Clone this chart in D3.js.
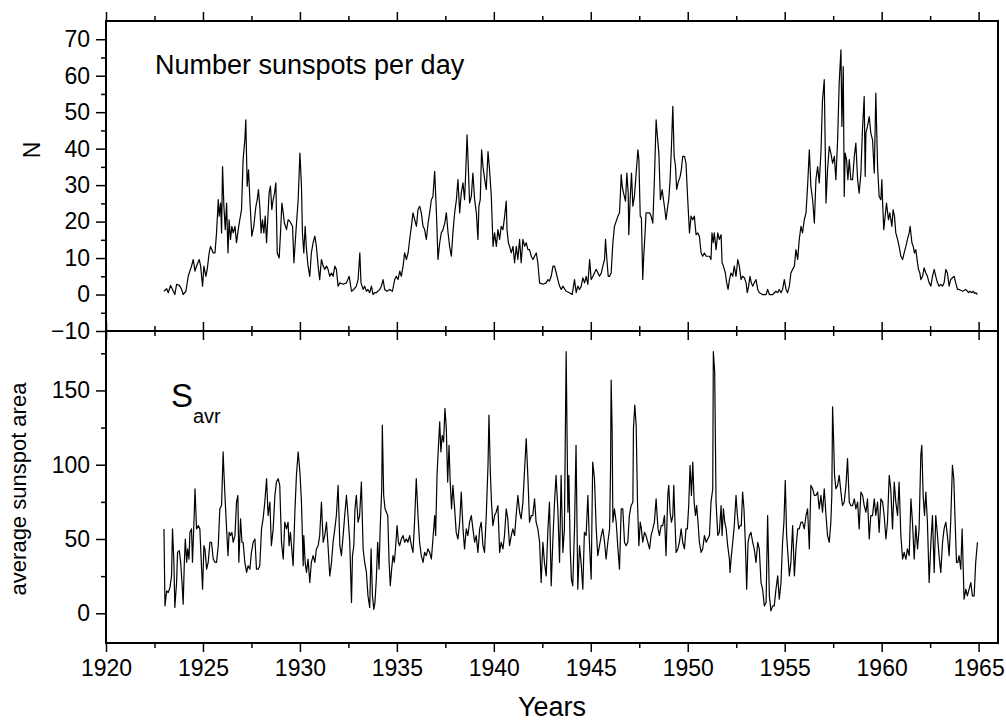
<!DOCTYPE html>
<html>
<head>
<meta charset="utf-8">
<script src="https://cdnjs.cloudflare.com/ajax/libs/d3/7.8.5/d3.min.js"></script>
<style>
  body { margin: 0; background: #fff; }
  svg text { font-family: "Liberation Sans", Arial, sans-serif; fill: #000; }
  .tick text { font-size: 23px; }
</style>
</head>
<body>
<div id="chart"></div>
<script>
// monthly readings [year, value]
var sunspotsPerDay = [
  [1922.99,0.9],[1923.13,1.6],[1923.21,0.5],[1923.33,2.5],[1923.43,1.4],[1923.55,0.0],[1923.64,2.8],[1923.78,2.5],[1923.90,1.4],[1923.98,0.0],
  [1924.12,0.9],[1924.24,5.0],[1924.41,7.8],[1924.50,9.6],[1924.59,6.4],[1924.67,7.8],[1924.81,9.6],[1924.88,7.8],[1924.98,2.3],[1925.05,7.8],
  [1925.15,5.0],[1925.22,6.9],[1925.32,11.4],[1925.39,13.2],[1925.53,11.4],[1925.62,11.4],[1925.70,16.9],[1925.79,26.0],[1925.84,21.5],[1925.91,25.1],
  [1925.96,16.9],[1926.01,35.1],[1926.08,24.2],[1926.15,17.8],[1926.22,25.1],[1926.29,11.4],[1926.35,20.5],[1926.42,15.1],[1926.49,18.7],[1926.56,16.9],
  [1926.65,18.7],[1926.73,14.2],[1926.82,17.8],[1926.90,20.5],[1926.99,23.3],[1927.07,37.0],[1927.16,42.4],[1927.21,47.9],[1927.28,29.7],[1927.35,34.2],
  [1927.42,26.0],[1927.52,16.0],[1927.62,18.7],[1927.73,24.2],[1927.80,26.0],[1927.86,28.8],[1927.93,24.2],[1928.00,16.9],[1928.07,20.5],[1928.14,16.9],
  [1928.21,21.5],[1928.28,14.2],[1928.36,22.4],[1928.41,27.8],[1928.48,29.7],[1928.55,23.3],[1928.62,26.0],[1928.69,27.8],[1928.76,30.6],[1928.83,11.4],
  [1928.93,10.0],[1929.00,16.9],[1929.07,25.1],[1929.14,22.4],[1929.20,19.6],[1929.31,17.8],[1929.39,20.5],[1929.48,20.1],[1929.62,18.7],[1929.69,8.7],
  [1929.79,16.9],[1929.91,26.0],[1930.00,38.8],[1930.08,29.7],[1930.13,16.9],[1930.20,11.4],[1930.27,18.7],[1930.34,12.3],[1930.42,7.8],[1930.51,5.0],
  [1930.59,11.4],[1930.68,14.2],[1930.77,16.0],[1930.85,13.2],[1930.94,7.8],[1931.02,4.1],[1931.11,9.6],[1931.20,7.8],[1931.28,6.9],[1931.37,7.8],
  [1931.45,6.9],[1931.54,5.0],[1931.63,5.9],[1931.71,5.0],[1931.80,7.8],[1931.88,6.9],[1931.97,2.3],[1932.06,3.2],[1932.23,2.8],[1932.40,3.2],
  [1932.54,5.0],[1932.66,0.9],[1932.78,1.4],[1932.91,2.3],[1933.00,4.1],[1933.09,11.4],[1933.15,3.2],[1933.26,1.4],[1933.34,2.3],[1933.43,0.9],
  [1933.51,1.4],[1933.60,0.5],[1933.69,2.3],[1933.77,0.0],[1933.86,0.5],[1933.94,0.5],[1934.12,1.4],[1934.20,2.3],[1934.29,4.1],[1934.37,1.4],
  [1934.49,0.9],[1934.63,1.4],[1934.77,0.9],[1934.89,4.1],[1934.97,5.0],[1935.06,4.1],[1935.15,6.4],[1935.23,5.0],[1935.32,7.8],[1935.40,11.4],
  [1935.49,9.6],[1935.58,11.4],[1935.66,15.1],[1935.75,18.7],[1935.83,22.4],[1935.92,20.5],[1936.01,18.7],[1936.09,23.3],[1936.18,24.2],[1936.26,22.4],
  [1936.35,18.7],[1936.43,17.8],[1936.52,15.1],[1936.61,19.6],[1936.69,22.4],[1936.78,26.0],[1936.86,26.9],[1936.95,33.8],[1937.04,22.4],[1937.12,9.6],
  [1937.21,14.2],[1937.29,16.9],[1937.38,17.8],[1937.47,19.6],[1937.55,22.4],[1937.64,16.9],[1937.72,13.2],[1937.81,10.5],[1937.89,16.9],[1937.98,22.4],
  [1938.07,26.0],[1938.15,31.5],[1938.24,22.4],[1938.32,27.8],[1938.41,30.6],[1938.49,26.0],[1938.55,33.3],[1938.62,43.8],[1938.67,37.0],[1938.75,25.1],
  [1938.84,26.9],[1938.92,33.3],[1939.01,26.0],[1939.10,22.4],[1939.18,15.1],[1939.23,24.2],[1939.30,26.0],[1939.37,39.7],[1939.44,35.1],[1939.53,31.5],
  [1939.61,28.8],[1939.70,39.2],[1939.78,34.2],[1939.87,26.9],[1939.96,13.2],[1940.04,16.9],[1940.13,13.2],[1940.21,17.8],[1940.30,15.1],[1940.38,18.7],
  [1940.47,17.8],[1940.56,21.5],[1940.64,25.6],[1940.68,17.8],[1940.75,14.2],[1940.81,13.2],[1940.90,11.4],[1940.99,13.2],[1941.07,8.7],[1941.16,13.2],
  [1941.24,9.6],[1941.33,15.1],[1941.41,8.7],[1941.50,15.1],[1941.59,13.2],[1941.67,14.2],[1941.76,12.3],[1941.84,12.3],[1941.93,10.5],[1942.02,9.6],
  [1942.10,10.5],[1942.19,11.4],[1942.27,8.7],[1942.36,3.2],[1942.53,2.8],[1942.70,3.2],[1942.79,4.1],[1942.87,3.7],[1942.96,5.0],[1943.05,7.8],
  [1943.13,7.8],[1943.22,5.9],[1943.30,4.1],[1943.39,2.3],[1943.48,1.4],[1943.56,2.3],[1943.73,0.9],[1943.90,0.5],[1944.04,0.0],[1944.11,2.3],
  [1944.16,4.1],[1944.25,0.5],[1944.33,2.3],[1944.42,1.4],[1944.51,2.3],[1944.59,4.6],[1944.68,3.2],[1944.76,5.0],[1944.85,2.8],[1944.94,9.6],
  [1945.02,4.1],[1945.11,5.0],[1945.28,6.9],[1945.45,5.0],[1945.54,5.9],[1945.62,7.8],[1945.71,9.6],[1945.76,15.1],[1945.83,9.6],[1945.90,5.0],
  [1945.97,5.0],[1946.05,5.9],[1946.14,14.2],[1946.22,18.7],[1946.31,20.1],[1946.40,21.5],[1946.48,22.4],[1946.53,27.8],[1946.57,32.9],[1946.62,29.7],
  [1946.69,27.8],[1946.79,25.6],[1946.86,33.3],[1946.93,27.8],[1946.96,16.4],[1947.03,26.0],[1947.10,33.3],[1947.17,24.2],[1947.25,26.9],[1947.34,33.3],
  [1947.43,39.7],[1947.48,37.0],[1947.55,21.5],[1947.61,21.0],[1947.68,4.1],[1947.73,10.5],[1947.80,16.9],[1947.85,22.4],[1948.03,22.4],[1948.11,21.5],
  [1948.20,19.6],[1948.28,31.5],[1948.37,47.9],[1948.42,44.3],[1948.51,38.8],[1948.59,26.0],[1948.68,28.8],[1948.75,26.0],[1948.82,23.3],[1948.88,20.5],
  [1948.97,24.2],[1949.02,26.0],[1949.09,31.5],[1949.16,40.6],[1949.23,51.6],[1949.30,37.9],[1949.37,35.1],[1949.43,28.8],[1949.50,30.6],[1949.61,32.4],
  [1949.67,34.2],[1949.74,37.9],[1949.83,37.9],[1949.91,36.0],[1950.00,26.0],[1950.09,16.9],[1950.17,21.5],[1950.26,20.5],[1950.34,21.5],[1950.43,16.4],
  [1950.52,16.9],[1950.60,16.0],[1950.69,11.4],[1950.77,10.5],[1950.86,11.4],[1950.95,10.5],[1951.12,10.5],[1951.20,9.6],[1951.25,16.9],[1951.32,14.2],
  [1951.37,16.9],[1951.46,12.3],[1951.55,16.9],[1951.63,15.1],[1951.72,16.4],[1951.77,8.7],[1951.84,7.8],[1951.94,5.9],[1952.01,3.2],[1952.08,1.4],
  [1952.15,4.1],[1952.23,5.9],[1952.32,5.0],[1952.40,7.8],[1952.49,5.0],[1952.58,9.6],[1952.66,7.8],[1952.75,4.1],[1952.83,5.0],[1952.92,4.6],
  [1953.01,3.2],[1953.07,0.5],[1953.14,2.3],[1953.21,5.0],[1953.28,3.2],[1953.35,2.3],[1953.43,3.2],[1953.52,4.1],[1953.61,1.4],[1953.69,0.5],
  [1953.86,0.0],[1954.04,0.0],[1954.12,1.4],[1954.21,0.0],[1954.38,0.0],[1954.55,0.9],[1954.64,0.5],[1954.72,1.4],[1954.81,0.5],[1954.89,1.4],
  [1954.98,4.1],[1955.07,1.4],[1955.15,0.5],[1955.24,2.3],[1955.32,5.9],[1955.41,6.9],[1955.50,7.8],[1955.58,12.3],[1955.67,9.6],[1955.75,15.1],
  [1955.84,18.7],[1955.92,16.9],[1956.01,20.5],[1956.10,22.4],[1956.18,29.7],[1956.27,39.7],[1956.35,29.7],[1956.44,26.0],[1956.53,19.6],[1956.61,31.5],
  [1956.70,35.1],[1956.78,30.6],[1956.87,38.8],[1956.95,53.4],[1957.04,58.9],[1957.13,25.1],[1957.21,34.2],[1957.30,40.6],[1957.38,38.8],[1957.47,36.0],
  [1957.56,37.9],[1957.64,31.5],[1957.73,42.4],[1957.81,58.0],[1957.90,67.1],[1957.95,46.1],[1958.02,62.5],[1958.07,26.9],[1958.12,38.8],[1958.19,37.0],
  [1958.26,31.5],[1958.33,37.0],[1958.41,31.5],[1958.50,31.5],[1958.59,37.9],[1958.67,41.5],[1958.76,31.5],[1958.84,27.8],[1958.93,33.3],[1959.01,45.2],
  [1959.10,54.3],[1959.15,32.4],[1959.19,44.3],[1959.27,46.1],[1959.36,48.8],[1959.44,44.3],[1959.53,42.4],[1959.62,33.3],[1959.70,55.2],[1959.79,35.1],
  [1959.87,26.9],[1959.96,26.0],[1960.01,31.5],[1960.05,25.1],[1960.11,17.8],[1960.18,21.5],[1960.25,25.1],[1960.35,20.5],[1960.42,22.4],[1960.53,18.7],
  [1960.59,23.3],[1960.66,21.5],[1960.73,16.9],[1960.82,15.1],[1960.90,13.2],[1960.99,10.5],[1961.08,9.6],[1961.16,11.4],[1961.25,13.2],[1961.33,15.1],
  [1961.42,16.9],[1961.47,18.7],[1961.56,14.2],[1961.63,13.2],[1961.69,11.4],[1961.76,12.3],[1961.85,8.7],[1961.90,6.9],[1961.97,5.9],[1962.02,4.1],
  [1962.11,5.0],[1962.19,7.3],[1962.28,5.9],[1962.36,5.0],[1962.45,3.2],[1962.54,2.3],[1962.62,5.0],[1962.71,6.9],[1962.79,5.0],[1962.88,3.2],
  [1962.96,2.3],[1963.05,2.8],[1963.14,2.3],[1963.22,3.2],[1963.31,6.9],[1963.39,5.9],[1963.48,2.3],[1963.56,4.1],[1963.65,4.6],[1963.74,5.0],
  [1963.82,3.2],[1963.91,1.4],[1963.99,1.4],[1964.17,0.9],[1964.34,1.4],[1964.48,0.5],[1964.55,0.9],[1964.65,0.5],[1964.72,0.9],[1964.79,0.3],
  [1964.85,0.5],[1964.94,0.0]
];

var averageArea = [
  [1922.99,56.8],[1923.04,5.0],[1923.13,15.1],[1923.21,14.0],[1923.30,17.4],[1923.38,25.2],[1923.43,56.8],[1923.50,34.3],[1923.55,3.9],[1923.64,20.7],
  [1923.69,41.0],[1923.78,42.1],[1923.85,34.3],[1923.92,20.7],[1923.98,6.1],[1924.04,34.3],[1924.09,50.0],[1924.16,34.3],[1924.21,43.3],[1924.28,36.5],
  [1924.33,54.5],[1924.41,56.8],[1924.46,34.3],[1924.53,59.0],[1924.59,83.8],[1924.67,56.8],[1924.76,59.0],[1924.84,56.8],[1924.93,29.7],[1924.98,16.2],
  [1925.05,45.5],[1925.10,43.3],[1925.19,29.7],[1925.27,34.3],[1925.36,47.8],[1925.44,47.8],[1925.53,36.5],[1925.62,34.3],[1925.70,34.3],[1925.79,45.5],
  [1925.87,70.3],[1925.96,72.5],[1926.04,108.6],[1926.08,95.1],[1926.15,74.8],[1926.22,56.8],[1926.29,38.8],[1926.35,54.5],[1926.42,52.3],[1926.49,54.5],
  [1926.56,47.8],[1926.65,52.3],[1926.73,74.8],[1926.80,79.3],[1926.85,34.3],[1926.94,63.5],[1927.01,47.8],[1927.07,47.8],[1927.16,34.3],[1927.25,27.5],
  [1927.33,32.0],[1927.42,29.7],[1927.50,41.0],[1927.59,47.8],[1927.68,50.0],[1927.76,29.7],[1927.85,29.7],[1927.93,32.0],[1928.02,56.8],[1928.10,63.5],
  [1928.19,74.8],[1928.28,90.6],[1928.36,65.8],[1928.45,74.8],[1928.53,45.5],[1928.62,56.8],[1928.71,79.3],[1928.79,88.3],[1928.88,90.6],[1928.96,86.1],
  [1929.05,47.8],[1929.14,36.5],[1929.22,61.3],[1929.31,56.8],[1929.39,61.3],[1929.44,45.5],[1929.51,54.5],[1929.58,43.3],[1929.65,32.0],[1929.74,68.0],
  [1929.82,92.8],[1929.91,108.6],[1930.00,95.1],[1930.08,74.8],[1930.17,32.0],[1930.20,52.3],[1930.27,34.3],[1930.34,27.5],[1930.42,36.5],[1930.51,20.7],
  [1930.59,34.3],[1930.68,38.8],[1930.77,34.3],[1930.85,43.3],[1930.94,45.5],[1931.02,52.3],[1931.11,74.8],[1931.20,47.8],[1931.28,52.3],[1931.37,61.3],
  [1931.45,45.5],[1931.54,25.2],[1931.63,34.3],[1931.71,47.8],[1931.80,56.8],[1931.88,65.8],[1931.97,86.1],[1932.06,45.5],[1932.14,38.8],[1932.23,52.3],
  [1932.31,65.8],[1932.40,79.3],[1932.48,65.8],[1932.57,47.8],[1932.66,7.2],[1932.71,38.8],[1932.78,45.5],[1932.84,70.3],[1932.91,79.3],[1933.00,61.3],
  [1933.08,65.8],[1933.17,88.3],[1933.26,43.3],[1933.34,34.3],[1933.43,27.5],[1933.51,11.7],[1933.60,3.9],[1933.67,43.3],[1933.74,11.7],[1933.81,2.7],
  [1933.87,7.2],[1933.94,23.0],[1934.01,47.8],[1934.08,29.7],[1934.15,61.3],[1934.22,83.8],[1934.25,126.6],[1934.32,79.3],[1934.39,70.3],[1934.46,68.0],
  [1934.53,65.8],[1934.60,34.3],[1934.66,18.5],[1934.73,29.7],[1934.80,38.8],[1934.87,34.3],[1934.94,45.5],[1935.01,59.0],[1935.08,47.8],[1935.14,45.5],
  [1935.23,50.0],[1935.32,52.3],[1935.40,47.8],[1935.49,50.0],[1935.57,47.8],[1935.66,52.3],[1935.75,45.5],[1935.83,41.0],[1935.92,63.5],[1936.00,90.6],
  [1936.09,65.8],[1936.17,47.8],[1936.26,38.8],[1936.35,34.3],[1936.43,41.0],[1936.52,38.8],[1936.60,43.3],[1936.69,41.0],[1936.78,36.5],[1936.86,50.0],
  [1936.95,65.8],[1937.00,52.3],[1937.07,92.8],[1937.12,106.3],[1937.21,128.8],[1937.27,108.6],[1937.34,119.8],[1937.41,115.3],[1937.48,137.9],[1937.55,124.3],
  [1937.62,88.3],[1937.69,113.1],[1937.75,88.3],[1937.82,70.3],[1937.89,86.1],[1937.98,70.3],[1938.06,54.5],[1938.15,50.0],[1938.24,61.3],[1938.32,81.6],
  [1938.41,56.8],[1938.49,43.3],[1938.58,56.8],[1938.66,52.3],[1938.75,61.3],[1938.84,65.8],[1938.92,56.8],[1939.01,47.8],[1939.09,52.3],[1939.18,41.0],
  [1939.27,56.8],[1939.35,61.3],[1939.44,45.5],[1939.52,41.0],[1939.61,65.8],[1939.70,99.6],[1939.75,133.4],[1939.82,95.1],[1939.88,74.8],[1939.95,59.0],
  [1940.04,65.8],[1940.12,68.0],[1940.21,72.5],[1940.30,41.0],[1940.38,47.8],[1940.47,43.3],[1940.55,52.3],[1940.64,70.3],[1940.72,63.5],[1940.81,45.5],
  [1940.90,52.3],[1940.98,56.8],[1941.07,52.3],[1941.15,65.8],[1941.24,79.3],[1941.33,68.0],[1941.41,63.5],[1941.50,74.8],[1941.58,95.1],[1941.67,117.6],
  [1941.76,90.6],[1941.84,61.3],[1941.93,65.8],[1942.01,65.8],[1942.10,77.0],[1942.18,61.3],[1942.27,56.8],[1942.36,47.8],[1942.44,20.7],[1942.53,47.8],
  [1942.61,34.3],[1942.70,25.2],[1942.79,56.8],[1942.87,74.8],[1942.96,18.5],[1943.04,47.8],[1943.13,74.8],[1943.21,92.8],[1943.30,70.3],[1943.39,34.3],
  [1943.47,92.8],[1943.56,41.0],[1943.64,56.8],[1943.73,176.1],[1943.82,68.0],[1943.87,92.8],[1943.94,43.3],[1944.00,23.0],[1944.07,18.5],[1944.16,56.8],
  [1944.24,113.1],[1944.33,16.2],[1944.42,45.5],[1944.50,34.3],[1944.59,16.2],[1944.67,54.5],[1944.76,52.3],[1944.85,79.3],[1944.93,47.8],[1945.02,23.0],
  [1945.10,101.8],[1945.19,90.6],[1945.28,56.8],[1945.36,38.8],[1945.45,45.5],[1945.54,52.3],[1945.62,56.8],[1945.71,47.8],[1945.79,36.5],[1945.88,47.8],
  [1945.97,56.8],[1946.02,97.3],[1946.05,157.0],[1946.10,124.3],[1946.14,61.3],[1946.22,70.3],[1946.31,61.3],[1946.40,43.3],[1946.48,29.7],[1946.57,70.3],
  [1946.65,70.3],[1946.74,47.8],[1946.82,45.5],[1946.91,47.8],[1946.99,65.8],[1947.08,72.5],[1947.17,74.8],[1947.20,124.3],[1947.27,140.1],[1947.34,126.6],
  [1947.41,74.8],[1947.48,45.5],[1947.55,61.3],[1947.61,56.8],[1947.68,47.8],[1947.77,54.5],[1947.85,52.3],[1947.94,47.8],[1948.03,43.3],[1948.11,52.3],
  [1948.20,56.8],[1948.28,61.3],[1948.37,77.0],[1948.42,65.8],[1948.47,56.8],[1948.54,52.3],[1948.63,59.0],[1948.71,59.0],[1948.80,65.8],[1948.88,38.8],
  [1948.97,79.3],[1949.02,86.1],[1949.09,68.0],[1949.16,61.3],[1949.23,65.8],[1949.28,86.1],[1949.33,65.8],[1949.40,41.0],[1949.49,43.3],[1949.57,47.8],
  [1949.66,56.8],[1949.74,47.8],[1949.83,43.3],[1949.91,56.8],[1949.98,56.8],[1950.05,72.5],[1950.12,99.6],[1950.19,79.3],[1950.26,101.8],[1950.33,74.8],
  [1950.40,65.8],[1950.46,72.5],[1950.53,61.3],[1950.60,47.8],[1950.69,41.0],[1950.77,43.3],[1950.86,52.3],[1950.95,47.8],[1951.03,50.0],[1951.12,52.3],
  [1951.20,74.8],[1951.29,83.8],[1951.32,176.1],[1951.39,162.6],[1951.46,74.8],[1951.55,52.3],[1951.63,54.5],[1951.72,72.5],[1951.77,52.3],[1951.84,70.3],
  [1951.91,61.3],[1951.98,56.8],[1952.06,45.5],[1952.15,36.5],[1952.18,27.5],[1952.25,38.8],[1952.32,47.8],[1952.40,59.0],[1952.49,79.3],[1952.56,65.8],
  [1952.63,56.8],[1952.70,59.0],[1952.76,59.0],[1952.83,81.6],[1952.90,70.3],[1952.97,47.8],[1953.04,16.2],[1953.11,47.8],[1953.18,52.3],[1953.26,54.5],
  [1953.35,47.8],[1953.43,43.3],[1953.52,34.3],[1953.61,47.8],[1953.69,43.3],[1953.78,20.7],[1953.86,16.2],[1953.95,5.0],[1954.04,7.2],[1954.12,65.8],
  [1954.21,11.7],[1954.29,1.6],[1954.38,5.0],[1954.46,5.0],[1954.55,16.2],[1954.64,25.2],[1954.72,9.5],[1954.81,20.7],[1954.89,47.8],[1954.96,61.3],
  [1955.03,89.4],[1955.10,52.3],[1955.17,38.8],[1955.24,25.2],[1955.32,34.3],[1955.41,59.0],[1955.50,25.2],[1955.58,43.3],[1955.67,56.8],[1955.75,56.8],
  [1955.84,61.3],[1955.92,61.3],[1956.01,56.8],[1956.10,65.8],[1956.18,70.3],[1956.27,43.3],[1956.35,86.1],[1956.44,83.8],[1956.53,79.3],[1956.61,79.3],
  [1956.70,81.6],[1956.78,70.3],[1956.87,79.3],[1956.95,68.0],[1957.04,83.8],[1957.13,65.8],[1957.21,52.3],[1957.30,47.8],[1957.38,61.3],[1957.43,79.3],
  [1957.47,139.0],[1957.52,117.6],[1957.57,92.8],[1957.64,83.8],[1957.73,86.1],[1957.81,92.8],[1957.90,81.6],[1957.98,72.5],[1958.07,74.8],[1958.16,86.1],
  [1958.24,104.1],[1958.33,74.8],[1958.41,72.5],[1958.50,72.5],[1958.59,77.0],[1958.67,70.3],[1958.76,74.8],[1958.84,56.8],[1958.93,81.6],[1959.02,79.3],
  [1959.10,72.5],[1959.19,68.0],[1959.27,77.0],[1959.36,50.0],[1959.44,65.8],[1959.53,65.8],[1959.62,77.0],[1959.70,65.8],[1959.79,74.8],[1959.87,54.5],
  [1959.96,77.0],[1960.05,74.8],[1960.13,65.8],[1960.22,50.0],[1960.30,61.3],[1960.39,92.8],[1960.47,83.8],[1960.56,56.8],[1960.65,88.3],[1960.73,74.8],
  [1960.82,65.8],[1960.90,88.3],[1960.99,52.3],[1961.08,36.5],[1961.16,41.0],[1961.25,36.5],[1961.33,43.3],[1961.42,38.8],[1961.51,77.0],[1961.59,61.3],
  [1961.68,36.5],[1961.76,59.0],[1961.85,43.3],[1961.93,56.8],[1962.02,106.3],[1962.07,113.1],[1962.14,79.3],[1962.21,65.8],[1962.28,81.6],[1962.36,61.3],
  [1962.45,20.7],[1962.54,47.8],[1962.62,65.8],[1962.71,27.5],[1962.79,65.8],[1962.88,52.3],[1962.96,38.8],[1963.05,27.5],[1963.14,47.8],[1963.22,56.8],
  [1963.31,61.3],[1963.39,52.3],[1963.48,38.8],[1963.56,61.3],[1963.65,99.6],[1963.72,90.6],[1963.79,61.3],[1963.86,34.3],[1963.93,34.3],[1963.99,38.8],
  [1964.08,29.7],[1964.15,56.8],[1964.25,9.5],[1964.34,16.2],[1964.42,11.7],[1964.51,16.2],[1964.60,20.7],[1964.68,11.7],[1964.77,11.7],[1964.85,34.3],
  [1964.94,47.8]
];

var yearTicks = [1920, 1925, 1930, 1935, 1940, 1945, 1950, 1955, 1960, 1965];
var nTicks = [-10, 0, 10, 20, 30, 40, 50, 60, 70];
var areaTicks = [0, 50, 100, 150];

var width = 1006, height = 722;
var plotLeft = 106, plotRight = 998, plotTop = 21, plotMid = 331, plotBottom = 643;

var svg = d3.select("#chart").append("svg")
    .attr("width", width)
    .attr("height", height);

svg.append("rect").attr("width", width).attr("height", height).attr("fill", "#fff");

var x = d3.scaleLinear().domain([1920, 1966]).range([plotLeft, plotRight]);
var yN = d3.scaleLinear().domain([-10, 75]).range([plotMid, plotTop]);
var yS = d3.scaleLinear().domain([-20, 190]).range([plotBottom, plotMid]);

var yearMinor = d3.range(1922.5, 1965, 5);
var nMinor = d3.range(-5, 75, 10);
var areaMinor = d3.range(25, 190, 50);

function addAxis(axis, tx, ty) {
  var g = svg.append("g")
      .attr("transform", "translate(" + tx + "," + ty + ")")
      .call(axis);
  g.select(".domain").remove();
  g.selectAll("line").attr("stroke", "#000").attr("stroke-width", 1.5);
  g.attr("font-size", 23).attr("font-family", null);
  return g;
}

// y axes
addAxis(d3.axisLeft(yN).tickValues(nTicks).tickSize(10).tickPadding(6), plotLeft, 0);
addAxis(d3.axisLeft(yN).tickValues(nMinor).tickSize(5).tickFormat(""), plotLeft, 0);
addAxis(d3.axisLeft(yS).tickValues(areaTicks).tickSize(10).tickPadding(6), plotLeft, 0);
addAxis(d3.axisLeft(yS).tickValues(areaMinor).tickSize(5).tickFormat(""), plotLeft, 0);

// x ticks on every horizontal border, pointing outward
addAxis(d3.axisTop(x).tickValues(yearTicks).tickSize(9).tickFormat(""), 0, plotTop);
addAxis(d3.axisTop(x).tickValues(yearMinor).tickSize(5).tickFormat(""), 0, plotTop);
addAxis(d3.axisBottom(x).tickValues(yearTicks).tickSize(9).tickFormat(""), 0, plotMid);
addAxis(d3.axisBottom(x).tickValues(yearMinor).tickSize(5).tickFormat(""), 0, plotMid);
addAxis(d3.axisTop(x).tickValues(yearTicks).tickSize(9).tickFormat(""), 0, plotMid);
addAxis(d3.axisTop(x).tickValues(yearMinor).tickSize(5).tickFormat(""), 0, plotMid);
addAxis(d3.axisBottom(x).tickValues(yearTicks).tickSize(9).tickPadding(8).tickFormat(d3.format("d")), 0, plotBottom);
addAxis(d3.axisBottom(x).tickValues(yearMinor).tickSize(5).tickFormat(""), 0, plotBottom);

// panel frames
svg.append("rect")
    .attr("x", plotLeft).attr("y", plotTop)
    .attr("width", plotRight - plotLeft).attr("height", plotMid - plotTop)
    .attr("fill", "none").attr("stroke", "#000").attr("stroke-width", 2);
svg.append("rect")
    .attr("x", plotLeft).attr("y", plotMid)
    .attr("width", plotRight - plotLeft).attr("height", plotBottom - plotMid)
    .attr("fill", "none").attr("stroke", "#000").attr("stroke-width", 2);

// data lines
var lineN = d3.line().x(function(d) { return x(d[0]); }).y(function(d) { return yN(d[1]); });
var lineS = d3.line().x(function(d) { return x(d[0]); }).y(function(d) { return yS(d[1]); });

svg.append("path")
    .datum(sunspotsPerDay)
    .attr("d", lineN)
    .attr("fill", "none").attr("stroke", "#000").attr("stroke-width", 1.2)
    .attr("stroke-linejoin", "round");

svg.append("path")
    .datum(averageArea)
    .attr("d", lineS)
    .attr("fill", "none").attr("stroke", "#000").attr("stroke-width", 1.2)
    .attr("stroke-linejoin", "round");

// labels
svg.append("text")
    .attr("transform", "translate(40,150) rotate(-90)")
    .attr("text-anchor", "middle")
    .style("font-size", "23px")
    .text("N");

svg.append("text")
    .attr("transform", "translate(26,489) rotate(-90)")
    .attr("text-anchor", "middle")
    .style("font-size", "22px")
    .text("average sunspot area");

svg.append("text")
    .attr("x", (plotLeft + plotRight) / 2)
    .attr("y", 716)
    .attr("text-anchor", "middle")
    .style("font-size", "27px")
    .text("Years");

svg.append("text")
    .attr("x", 155)
    .attr("y", 74)
    .style("font-size", "27px")
    .text("Number sunspots per day");

var sLabel = svg.append("text")
    .attr("x", 171)
    .attr("y", 407)
    .style("font-size", "33px")
    .text("S");
sLabel.append("tspan")
    .attr("x", 193)
    .attr("y", 423)
    .style("font-size", "20px")
    .text("avr");
</script>
</body>
</html>
